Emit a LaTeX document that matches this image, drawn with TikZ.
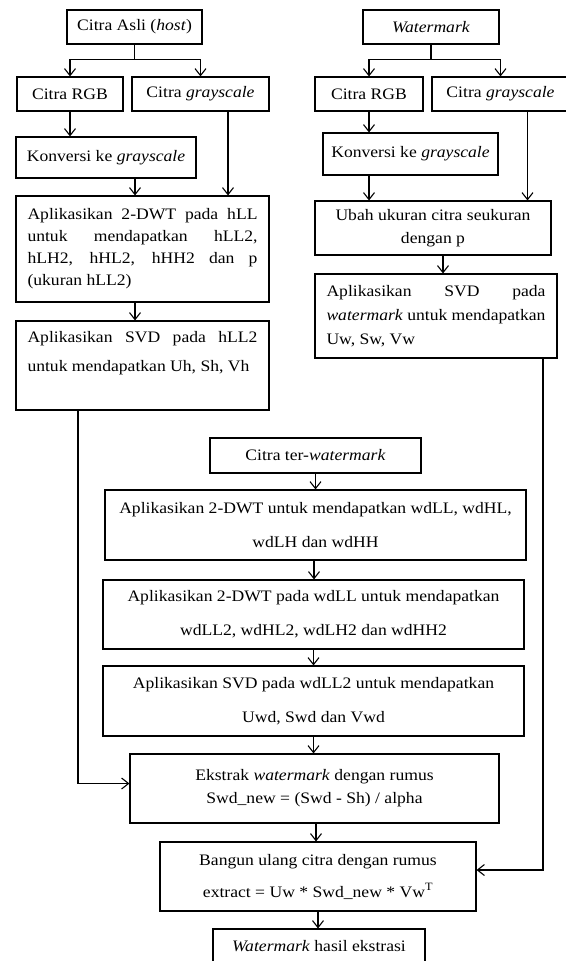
\documentclass[tikz,border=0pt]{standalone}
\usepackage{fontspec}
\setmainfont{Liberation Serif}[FakeStretch=1.1]
\usetikzlibrary{arrows.meta}

\begin{document}
\begin{tikzpicture}[x=1pt,y=-1pt,
    kotak/.style={draw,line width=1.1pt,inner sep=0pt,font=\fontsize{16}{22}\selectfont,align=center},
    rata/.style={align=justify,inner xsep=11.5pt},
    lebar/.style={minimum width=421pt,font=\fontsize{16}{34}\selectfont},
    panah/.style={line width=1.1pt,-{Straight Barb[length=7pt,width=11pt]}}]
    \useasboundingbox (0,0) rectangle (565,961);

    \node[kotak,minimum width=135pt,minimum height=34pt] (asli) at (134.5,27) {Citra Asli (\textit{host})};
    \node[kotak,minimum width=106pt,minimum height=34pt] (rgbkiri) at (70,94) {Citra RGB};
    \node[kotak,minimum width=137pt,minimum height=34pt] (graykiri) at (200.5,94) {Citra \textit{grayscale}};
    \node[kotak,minimum width=180pt,minimum height=41pt] (konvkiri) at (106,157.5) {Konversi ke \textit{grayscale}};
    \node[kotak,rata,text width=230pt,minimum height=106pt] (dwtkiri) at (142.5,249)
        {Aplikasikan 2-DWT pada hLL\linebreak untuk mendapatkan hLL2,\linebreak hLH2, hHL2, hHH2 dan p\linebreak (ukuran hLL2)};
    \node[kotak,rata,text width=230pt,inner ysep=5pt,text height=16pt,text depth=63pt,font=\fontsize{16}{29}\selectfont] (svdkiri) at (142.5,365.5)
        {Aplikasikan SVD pada hLL2\linebreak untuk mendapatkan Uh, Sh, Vh};

    \node[kotak,minimum width=136pt,minimum height=34pt] (wm) at (431,27) {\textit{Watermark}};
    \node[kotak,minimum width=108pt,minimum height=34pt] (rgbkanan) at (369,94) {Citra RGB};
    \node[kotak,minimum width=137pt,minimum height=34pt] (graykanan) at (500.5,94) {Citra \textit{grayscale}};
    \node[kotak,minimum width=175pt,minimum height=42pt] (konvkanan) at (410.5,154) {Konversi ke \textit{grayscale}};
    \node[kotak,minimum width=236pt,minimum height=54pt,font=\fontsize{16}{23}\selectfont] (ubah) at (433,228)
        {Ubah ukuran citra seukuran\\dengan p};
    \node[kotak,rata,text width=219pt,minimum height=84pt,font=\fontsize{16}{24}\selectfont] (svdkanan) at (436,316)
        {Aplikasikan SVD pada\linebreak \textit{watermark} untuk mendapatkan\linebreak Uw, Sw, Vw};

    \node[kotak,minimum width=211pt,minimum height=35pt] (ter) at (315.5,455.5) {Citra ter-\textit{watermark}};
    \node[kotak,lebar,minimum height=70pt] (dwt1) at (315.5,525)
        {Aplikasikan 2-DWT untuk mendapatkan wdLL, wdHL,\\wdLH dan wdHH};
    \node[kotak,lebar,minimum height=69pt] (dwt2) at (313.5,614.5)
        {Aplikasikan 2-DWT pada wdLL untuk mendapatkan\\wdLL2, wdHL2, wdLH2 dan wdHH2};
    \node[kotak,lebar,minimum height=70pt] (svdwd) at (313.5,701)
        {Aplikasikan SVD pada wdLL2 untuk mendapatkan\\Uwd, Swd dan Vwd};
    \node[kotak,minimum width=369pt,minimum height=69pt,font=\fontsize{16}{23}\selectfont] (ekstrak) at (314.5,788.5)
        {Ekstrak \textit{watermark} dengan rumus\\Swd\_new = (Swd - Sh) / alpha};
    \node[kotak,minimum width=316pt,minimum height=69pt,font=\fontsize{16}{32}\selectfont] (bangun) at (318,876.5)
        {Bangun ulang citra dengan rumus\\extract = Uw * Swd\_new * Vw\textsuperscript{T}};
    \node[kotak,minimum width=212pt,minimum height=34pt] (hasil) at (319,946) {\textit{Watermark} hasil ekstrasi};

    \draw[panah] (asli.south) -- ++(0,15) -| (rgbkiri.north);
    \draw[panah] (asli.south) -- ++(0,15) -| (graykiri.north);
    \draw[panah] (rgbkiri.south) -- (rgbkiri.south |- konvkiri.north);
    \draw[panah] ([xshift=27.5pt]graykiri.south) -- ([xshift=27.5pt]graykiri.south |- dwtkiri.north);
    \draw[panah] ([xshift=29pt]konvkiri.south) -- ([xshift=29pt]konvkiri.south |- dwtkiri.north);
    \draw[panah] ([xshift=-7.5pt]dwtkiri.south) -- ([xshift=-7.5pt]svdkiri.north);
    \draw[panah] ([xshift=-64.5pt]svdkiri.south) |- ([yshift=5pt]ekstrak.west);

    \draw[panah] (wm.south) -- ++(0,15) -| (rgbkanan.north);
    \draw[panah] (wm.south) -- ++(0,15) -| (graykanan.north);
    \draw[panah] (rgbkanan.south) -- (rgbkanan.south |- konvkanan.north);
    \draw[panah] (rgbkanan.south |- konvkanan.south) -- (rgbkanan.south |- ubah.north);
    \draw[panah] ([xshift=27pt]graykanan.south) -- ([xshift=27pt]graykanan.south |- ubah.north);
    \draw[panah] ([xshift=10pt]ubah.south) -- ([xshift=10pt]ubah.south |- svdkanan.north);
    \draw[panah] ([xshift=107pt]svdkanan.south) |- ([yshift=6.5pt]bangun.east);

    \draw[panah] (ter.south) -- (ter.south |- dwt1.north);
    \draw[panah] ([xshift=-1.5pt]dwt1.south) -- ([xshift=-1.5pt]dwt1.south |- dwt2.north);
    \draw[panah] (dwt2.south) -- (dwt2.south |- svdwd.north);
    \draw[panah] (svdwd.south) -- (svdwd.south |- ekstrak.north);
    \draw[panah] ([xshift=1.5pt]ekstrak.south) -- ([xshift=1.5pt]ekstrak.south |- bangun.north);
    \draw[panah] (bangun.south) -- (bangun.south |- hasil.north);
\end{tikzpicture}
\end{document}
